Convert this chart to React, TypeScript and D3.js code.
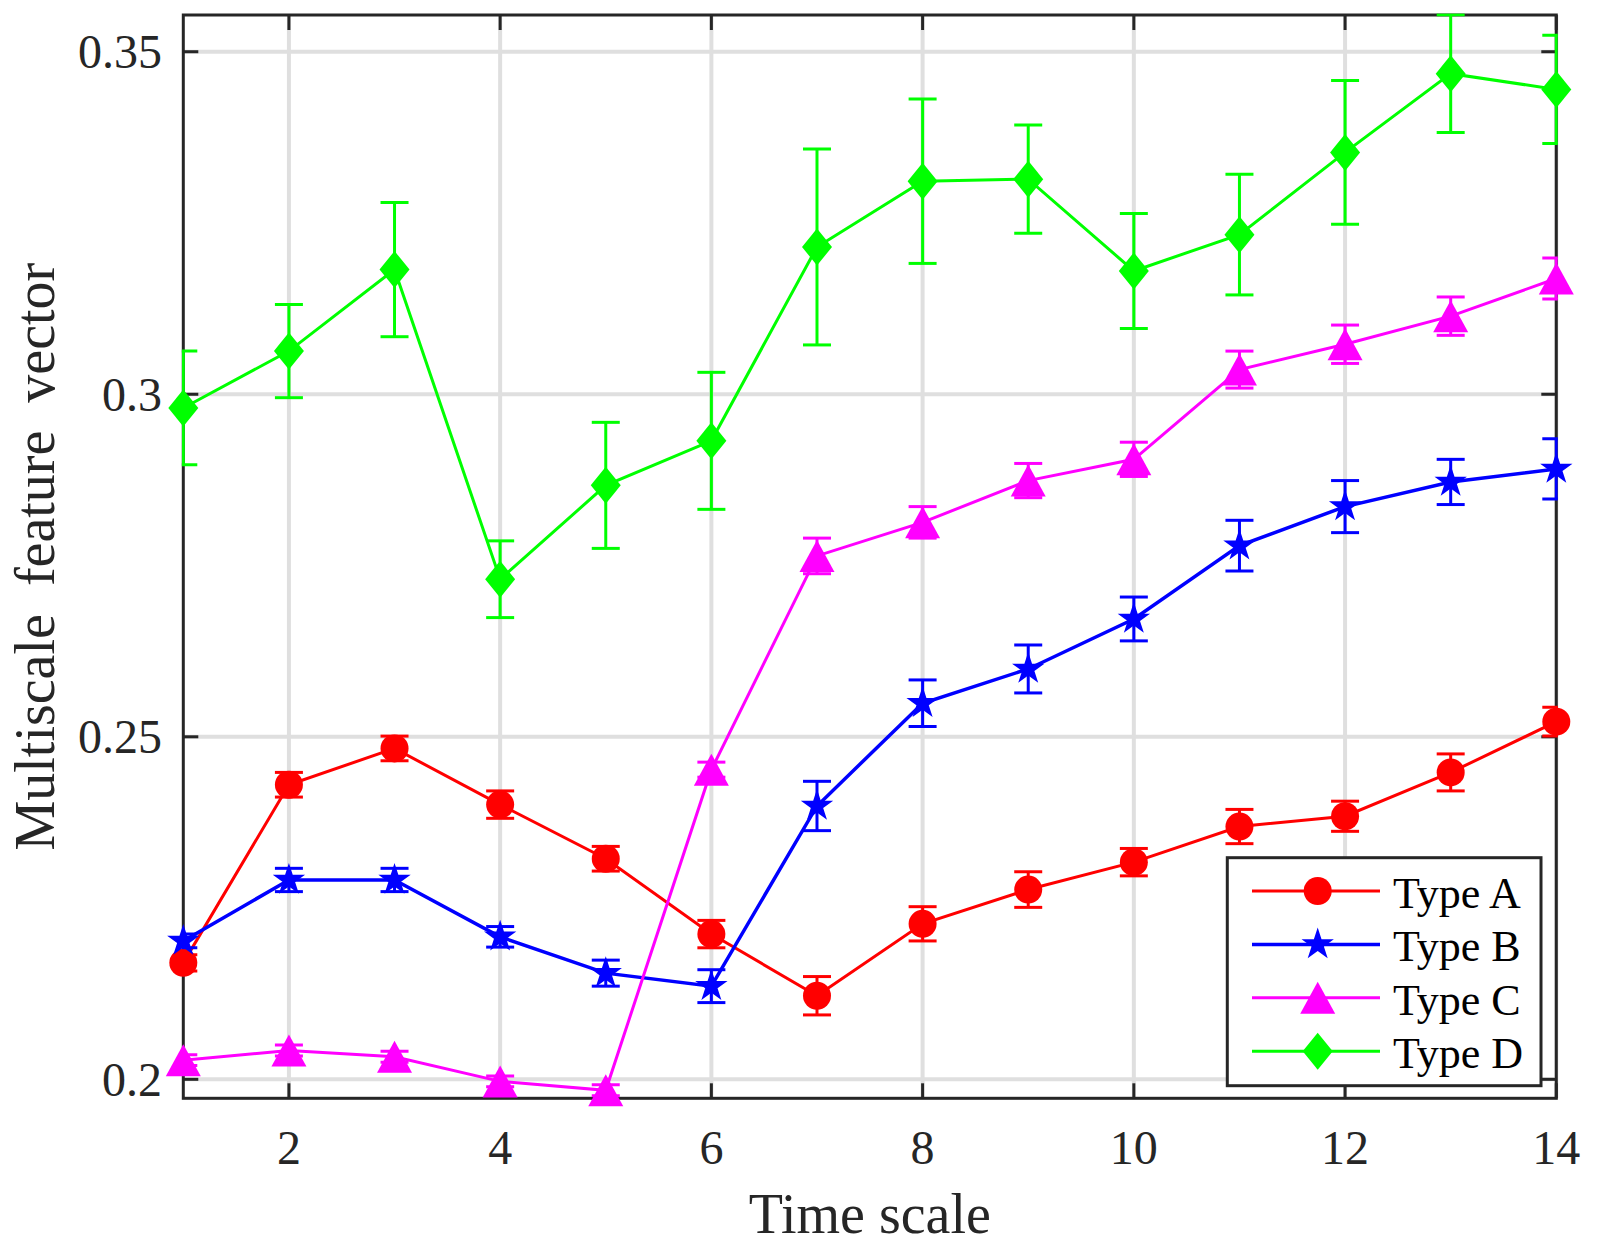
import { useEffect, useRef } from 'react';
import * as d3 from 'd3';

const timeScale = [1, 2, 3, 4, 5, 6, 7, 8, 9, 10, 11, 12, 13, 14];

const typeA = [0.2170, 0.2430, 0.2483, 0.2401, 0.2322, 0.2212, 0.2122, 0.2227, 0.2277, 0.2317, 0.2369, 0.2384, 0.2448, 0.2522];
const typeAErr = [0.0012, 0.0018, 0.0018, 0.0020, 0.0018, 0.0020, 0.0028, 0.0025, 0.0026, 0.0020, 0.0025, 0.0022, 0.0027, 0.0021];

const typeB = [0.2202, 0.2291, 0.2291, 0.2208, 0.2155, 0.2136, 0.2399, 0.2549, 0.2599, 0.2672, 0.2779, 0.2836, 0.2872, 0.2891];
const typeBErr = [0.0010, 0.0017, 0.0017, 0.0015, 0.0019, 0.0024, 0.0036, 0.0034, 0.0035, 0.0032, 0.0037, 0.0038, 0.0033, 0.0044];

const typeC = [0.2028, 0.2042, 0.2033, 0.1997, 0.1984, 0.2452, 0.2764, 0.2813, 0.2874, 0.2905, 0.3036, 0.3073, 0.3114, 0.3169];
const typeCErr = [0.0008, 0.0008, 0.0008, 0.0008, 0.0008, 0.0011, 0.0026, 0.0023, 0.0025, 0.0025, 0.0027, 0.0028, 0.0028, 0.0030];

const typeD = [0.2980, 0.3063, 0.3182, 0.2730, 0.2867, 0.2932, 0.3215, 0.3311, 0.3314, 0.3180, 0.3233, 0.3353, 0.3468, 0.3445];
const typeDErr = [0.0083, 0.0068, 0.0098, 0.0056, 0.0092, 0.0100, 0.0143, 0.0120, 0.0079, 0.0084, 0.0088, 0.0105, 0.0086, 0.0079];

const seriesNames = ['Type A', 'Type B', 'Type C', 'Type D'];

const xTicks = [2, 4, 6, 8, 10, 12, 14];
const yTicks = [0.2, 0.25, 0.3, 0.35];
const yTickLabels = ['0.2', '0.25', '0.3', '0.35'];

type MarkerKind = 'circle' | 'star' | 'triangle' | 'diamond';

function markerPath(kind: MarkerKind): string {
  const p = d3.path();
  if (kind === 'circle') {
    p.arc(0, 0, 14, 0, Math.PI * 2);
  } else if (kind === 'star') {
    const R = 17;
    const r = R * 0.382;
    for (let i = 0; i < 10; i++) {
      const a = -Math.PI / 2 + (i * Math.PI) / 5;
      const rad = i % 2 === 0 ? R : r;
      if (i === 0) p.moveTo(rad * Math.cos(a), rad * Math.sin(a));
      else p.lineTo(rad * Math.cos(a), rad * Math.sin(a));
    }
  } else if (kind === 'triangle') {
    p.moveTo(0, -16);
    p.lineTo(17.5, 16);
    p.lineTo(-17.5, 16);
  } else {
    p.moveTo(0, -18.5);
    p.lineTo(15, 0);
    p.lineTo(0, 18.5);
    p.lineTo(-15, 0);
  }
  p.closePath();
  return p.toString();
}

const FONT = '"Liberation Serif", "Times New Roman", Times, serif';
const AXIS = '#262626';

export default function App() {
  const svgRef = useRef<SVGSVGElement>(null);
  const width = 1597;
  const height = 1249;

  useEffect(() => {
    if (!svgRef.current) return;
    const svg = d3.select(svgRef.current);
    svg.selectAll('*').remove();

    const left = 183.3, right = 1556.3, top = 15, bottom = 1098.3;

    const x = d3.scaleLinear().domain([1, 14]).range([left, right]);
    const y = d3.scaleLinear().domain([0.19723, 0.35536]).range([bottom, top]);

    const series = [
      { name: seriesNames[0], values: typeA, err: typeAErr, color: '#ff0000', marker: 'circle' as MarkerKind, lw: 3 },
      { name: seriesNames[1], values: typeB, err: typeBErr, color: '#0000ff', marker: 'star' as MarkerKind, lw: 3.5 },
      { name: seriesNames[2], values: typeC, err: typeCErr, color: '#ff00ff', marker: 'triangle' as MarkerKind, lw: 3 },
      { name: seriesNames[3], values: typeD, err: typeDErr, color: '#00ff00', marker: 'diamond' as MarkerKind, lw: 3 },
    ];

    svg.append('defs')
      .append('clipPath')
      .attr('id', 'plotClip')
      .append('rect')
      .attr('x', left - 1.5)
      .attr('y', top - 1.5)
      .attr('width', right - left + 3)
      .attr('height', bottom - top + 3);

    // grid
    const grid = svg.append('g').attr('stroke', '#dfdfdf').attr('stroke-width', 4);
    xTicks.forEach(t => {
      grid.append('line').attr('x1', x(t)).attr('x2', x(t)).attr('y1', top).attr('y2', bottom);
    });
    yTicks.forEach(t => {
      grid.append('line').attr('x1', left).attr('x2', right).attr('y1', y(t)).attr('y2', y(t));
    });

    // axes box + inward ticks on all sides
    const ax = svg.append('g').attr('stroke', AXIS).attr('stroke-width', 3).attr('fill', 'none');
    ax.append('rect').attr('x', left).attr('y', top).attr('width', right - left).attr('height', bottom - top);
    const tl = 15;
    xTicks.forEach(t => {
      ax.append('line').attr('x1', x(t)).attr('x2', x(t)).attr('y1', bottom).attr('y2', bottom - tl);
      ax.append('line').attr('x1', x(t)).attr('x2', x(t)).attr('y1', top).attr('y2', top + tl);
    });
    yTicks.forEach(t => {
      ax.append('line').attr('x1', left).attr('x2', left + tl).attr('y1', y(t)).attr('y2', y(t));
      ax.append('line').attr('x1', right).attr('x2', right - tl).attr('y1', y(t)).attr('y2', y(t));
    });

    // tick labels
    xTicks.forEach(t => {
      svg.append('text')
        .attr('x', x(t))
        .attr('y', 1163.5)
        .attr('text-anchor', 'middle')
        .attr('font-family', FONT)
        .attr('font-size', 48)
        .attr('fill', AXIS)
        .text(String(t));
    });
    yTicks.forEach((t, i) => {
      svg.append('text')
        .attr('x', 162)
        .attr('y', y(t))
        .attr('dy', '0.34em')
        .attr('text-anchor', 'end')
        .attr('font-family', FONT)
        .attr('font-size', 48)
        .attr('fill', AXIS)
        .text(yTickLabels[i]);
    });

    // axis labels
    svg.append('text')
      .attr('x', (left + right) / 2)
      .attr('y', 1233)
      .attr('text-anchor', 'middle')
      .attr('font-family', FONT)
      .attr('font-size', 56)
      .attr('fill', AXIS)
      .text('Time scale');

    svg.append('text')
      .attr('transform', `translate(54,${(top + bottom) / 2}) rotate(-90)`)
      .attr('text-anchor', 'middle')
      .attr('font-family', FONT)
      .attr('font-size', 56)
      .attr('fill', AXIS)
      .style('white-space', 'pre')
      .text('Multiscale  feature  vector');

    // data: lines and error bars clipped, markers not
    const line = d3.line<number>()
      .x((_, i) => x(timeScale[i]))
      .y(d => y(d));

    const cap = 14;
    series.forEach(s => {
      const clipped = svg.append('g').attr('clip-path', 'url(#plotClip)');
      clipped.append('path')
        .datum(s.values)
        .attr('fill', 'none')
        .attr('stroke', s.color)
        .attr('stroke-width', s.lw)
        .attr('d', line);

      const eb = clipped.append('g').attr('stroke', s.color).attr('stroke-width', 3);
      s.values.forEach((v, i) => {
        const cx = x(timeScale[i]);
        const y0 = y(v - s.err[i]);
        const y1 = y(v + s.err[i]);
        eb.append('line').attr('x1', cx).attr('x2', cx).attr('y1', y0).attr('y2', y1);
        eb.append('line').attr('x1', cx - cap).attr('x2', cx + cap).attr('y1', y0).attr('y2', y0);
        eb.append('line').attr('x1', cx - cap).attr('x2', cx + cap).attr('y1', y1).attr('y2', y1);
      });

      const mp = markerPath(s.marker);
      svg.append('g')
        .selectAll('path')
        .data(s.values)
        .enter()
        .append('path')
        .attr('d', mp)
        .attr('fill', s.color)
        .attr('transform', (d, i) => `translate(${x(timeScale[i])},${y(d)})`);
    });

    // legend
    const lg = svg.append('g');
    lg.append('rect')
      .attr('x', 1227.3)
      .attr('y', 857.7)
      .attr('width', 1541 - 1227.3)
      .attr('height', 1085.7 - 857.7)
      .attr('fill', 'white')
      .attr('stroke', AXIS)
      .attr('stroke-width', 3);
    const rowY = d3.scaleLinear().domain([0, 3]).range([891, 1051.3]);
    series.forEach((s, i) => {
      const ry = rowY(i);
      lg.append('line')
        .attr('x1', 1252).attr('x2', 1380)
        .attr('y1', ry).attr('y2', ry)
        .attr('stroke', s.color)
        .attr('stroke-width', s.lw);
      lg.append('path')
        .attr('d', markerPath(s.marker))
        .attr('fill', s.color)
        .attr('transform', `translate(1317.7,${ry})`);
      lg.append('text')
        .attr('x', 1393)
        .attr('y', ry + 17)
        .attr('font-family', FONT)
        .attr('font-size', 44)
        .attr('fill', '#000')
        .text(s.name);
    });
  }, []);

  return (
    <svg
      ref={svgRef}
      width={width}
      height={height}
      style={{ position: 'absolute', left: 0, top: 0, background: 'white' }}
    />
  );
}
